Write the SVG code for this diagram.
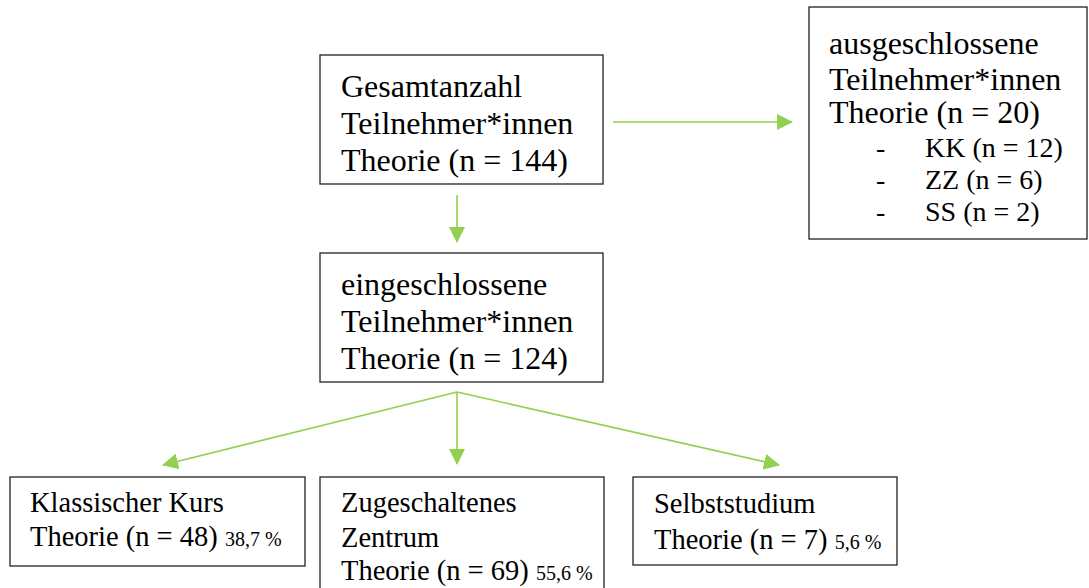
<svg xmlns="http://www.w3.org/2000/svg" width="1089" height="588" viewBox="0 0 1089 588">
<defs>
<style>
.box{fill:#fff;stroke:#222;stroke-width:1.3}
.c{stroke:#92D050;stroke-width:1.6;fill:none}
</style>
<marker id="ah" markerUnits="userSpaceOnUse" markerWidth="16" markerHeight="16" refX="15" refY="8" orient="auto" viewBox="0 0 16 16">
<path d="M0,0 L16,8 L0,16 Z" fill="#92D050"/>
</marker>
</defs>
<rect width="1089" height="588" fill="#fff"/>
<g id="connectors">
<line class="c" x1="457" y1="195" x2="457" y2="242" marker-end="url(#ah)"/>
<line class="c" x1="613" y1="122" x2="792" y2="122" marker-end="url(#ah)"/>
<line class="c" x1="457" y1="392" x2="163" y2="465" marker-end="url(#ah)"/>
<line class="c" x1="457" y1="392" x2="457" y2="464" marker-end="url(#ah)"/>
<line class="c" x1="457" y1="392" x2="779" y2="465" marker-end="url(#ah)"/>
</g>
<g id="total">
<rect class="box" x="320" y="55" width="283" height="129"/>
<text font-family="Liberation Serif" font-size="32" x="341" y="97">Gesamtanzahl</text>
<text font-family="Liberation Serif" font-size="32" x="341" y="134">Teilnehmer*innen</text>
<text font-family="Liberation Serif" font-size="32" x="341" y="171">Theorie (n = 144)</text>
</g>
<g id="excluded">
<rect class="box" x="809" y="7" width="278" height="232"/>
<text font-family="Liberation Serif" font-size="32" x="829" y="54">ausgeschlossene</text>
<text font-family="Liberation Serif" font-size="32" x="829" y="90">Teilnehmer*innen</text>
<text font-family="Liberation Serif" font-size="32" x="829" y="123">Theorie (n = 20)</text>
<text font-family="Liberation Serif" font-size="28" x="876" y="157">-</text>
<text font-family="Liberation Serif" font-size="28" x="925" y="157">KK (n = 12)</text>
<text font-family="Liberation Serif" font-size="28" x="876" y="189">-</text>
<text font-family="Liberation Serif" font-size="28" x="925" y="189">ZZ (n = 6)</text>
<text font-family="Liberation Serif" font-size="28" x="876" y="221">-</text>
<text font-family="Liberation Serif" font-size="28" x="925" y="221">SS (n = 2)</text>
</g>
<g id="included">
<rect class="box" x="320" y="253" width="283" height="129"/>
<text font-family="Liberation Serif" font-size="32" x="341" y="295">eingeschlossene</text>
<text font-family="Liberation Serif" font-size="32" x="341" y="332">Teilnehmer*innen</text>
<text font-family="Liberation Serif" font-size="32" x="341" y="369">Theorie (n = 124)</text>
</g>
<g id="klassisch">
<rect class="box" x="10" y="477" width="295" height="89"/>
<text font-family="Liberation Serif" font-size="28.5" x="30" y="512">Klassischer Kurs</text>
<text font-family="Liberation Serif" font-size="28.5" x="30" y="546">Theorie (n = 48) <tspan font-size="20">38,7 %</tspan></text>
</g>
<g id="zentrum">
<rect class="box" x="320" y="477" width="284" height="115"/>
<text font-family="Liberation Serif" font-size="28.5" x="341" y="512">Zugeschaltenes</text>
<text font-family="Liberation Serif" font-size="28.5" x="341" y="547">Zentrum</text>
<text font-family="Liberation Serif" font-size="28.5" x="341" y="580">Theorie (n = 69) <tspan font-size="20">55,6 %</tspan></text>
</g>
<g id="selbst">
<rect class="box" x="633" y="477" width="264" height="88"/>
<text font-family="Liberation Serif" font-size="28.5" x="654" y="513">Selbststudium</text>
<text font-family="Liberation Serif" font-size="28.5" x="654" y="549">Theorie (n = 7) <tspan font-size="20">5,6 %</tspan></text>
</g>
</svg>
